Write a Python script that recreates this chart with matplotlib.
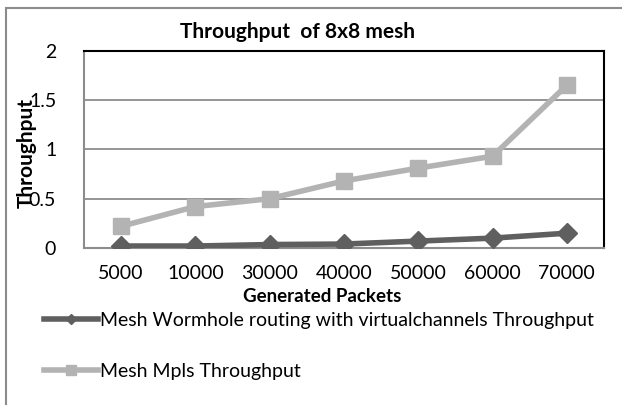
import matplotlib
matplotlib.use("Agg")
import matplotlib.pyplot as plt
from matplotlib.lines import Line2D

categories = ["5000", "10000", "30000", "40000", "50000", "60000", "70000"]
wormhole = [0.02, 0.02, 0.035, 0.04, 0.07, 0.10, 0.15]
mpls = [0.22, 0.42, 0.50, 0.68, 0.81, 0.93, 1.65]
yticks = [0, 0.5, 1, 1.5, 2]
ytick_labels = ["0", "0.5", "1", "1.5", "2"]

plt.rcParams['font.family'] = ['Lato', 'DejaVu Sans']

W, H = 622, 405
fig = plt.figure(figsize=(W / 100, H / 100), dpi=100)
fig.patch.set_facecolor("white")

# outer chart frame (clipped at right and bottom)
fig.add_artist(Line2D([5.5 / W, 5.5 / W], [0, 1 - 8 / H], transform=fig.transFigure,
                      color="#8c8c8c", lw=1.5))
fig.add_artist(Line2D([5.5 / W, 1], [1 - 8 / H, 1 - 8 / H], transform=fig.transFigure,
                      color="#8c8c8c", lw=1.5))

left, right, top, bottom = 84 / W, 604 / W, 50.7 / H, 248 / H
ax = fig.add_axes([left, 1 - bottom, right - left, bottom - top])

x = list(range(len(categories)))
ax.plot(x, wormhole, color="#5f5f5f", lw=4, marker="D", markersize=10,
        label="Mesh Wormhole routing with virtualchannels Throughput", zorder=4)
ax.plot(x, mpls, color="#b3b3b3", lw=4, marker="s", markersize=12,
        label="Mesh Mpls Throughput", zorder=3)

ax.set_xlim(-0.5, len(categories) - 0.5)
ax.set_ylim(0, 2)
ax.set_yticks(yticks)
ax.set_yticklabels(ytick_labels)
ax.set_xticks(x)
ax.set_xticklabels(categories)
ax.tick_params(axis="both", length=0, labelsize=14)
ax.tick_params(axis="y", pad=20)
ax.tick_params(axis="x", pad=12)
for yv in [0.5, 1, 1.5]:
    ax.axhline(yv, color="#8c8c8c", lw=1.3, zorder=1)

ax.spines["top"].set_color("black")
ax.spines["right"].set_color("black")
ax.spines["left"].set_color("#8c8c8c")
ax.spines["bottom"].set_color("#8c8c8c")
for s in ax.spines.values():
    s.set_linewidth(1.5)

fig.text(298 / W, 1 - 32 / H, "Throughput  of 8x8 mesh", ha="center", va="center",
         fontsize=15, fontweight="bold")
fig.text(322 / W, 1 - 297 / H, "Generated Packets", ha="center", va="center",
         fontsize=13.5, fontweight="bold")
fig.text(27 / W, 1 - 153 / H, "Throughput", ha="center", va="center",
         fontsize=15, fontweight="bold", rotation=90)

h, l = ax.get_legend_handles_labels()
fig.legend(h, l, loc="upper left", bbox_to_anchor=(44 / W, 1 - 312 / H),
           frameon=False, fontsize=14, handlelength=2.8, handletextpad=0.1,
           labelspacing=1.75, borderaxespad=0, borderpad=0, markerscale=0.55)

fig.savefig("out.png", dpi=100)
